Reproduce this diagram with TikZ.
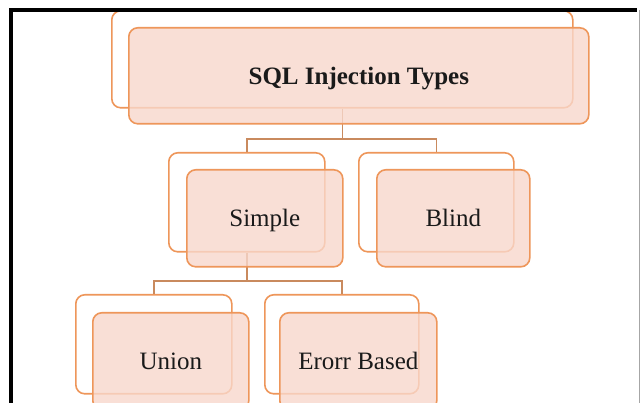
\documentclass[tikz,border=0pt]{standalone}
\usepackage{fontspec}
\setmainfont{Liberation Serif}
\definecolor{boxfill}{HTML}{F8D8CC}
\definecolor{boxline}{HTML}{EE965A}
\definecolor{conn}{HTML}{C98A5E}
\definecolor{txt}{HTML}{1A1A1A}
\tikzset{
  backbox/.style={draw=boxline, fill=white, line width=1.6pt, rounded corners=9pt, anchor=north west, inner sep=0pt},
  frontbox/.style={draw=boxline, fill=boxfill, fill opacity=0.8, text opacity=1, line width=1.6pt, rounded corners=9pt, anchor=north west, inner sep=0pt, text=txt, font=\fontsize{25}{29}\selectfont, text height=20pt, text depth=3pt},
  connector/.style={draw=conn, line width=1.5pt},
}
\begin{document}
\begin{tikzpicture}[x=1pt,y=-1pt]
\useasboundingbox (0,0) rectangle (641,403);
\clip (0,0) rectangle (641,403);
\fill[white] (0,0) rectangle (641,403);
% back boxes
\node[backbox, minimum width=461pt, minimum height=97pt] (topB) at (111,10) {};
\node[backbox, minimum width=156pt, minimum height=99pt] (simpleB) at (168,152) {};
\node[backbox, minimum width=155pt, minimum height=99pt] (blindB) at (358,152) {};
\node[backbox, minimum width=156pt, minimum height=99pt] (unionB) at (75,294) {};
\node[backbox, minimum width=154pt, minimum height=99pt] (errB) at (264,294) {};
% connectors
\draw[connector] (topB.south) -- (topB.south |- 0,139) -| (simpleB.north);
\draw[connector] (topB.south |- 0,139) -| (blindB.north);
\draw[connector] (simpleB.south) -- (simpleB.south |- 0,281) -| (unionB.north);
\draw[connector] (simpleB.south |- 0,281) -| (errB.north);
% front boxes
\node[frontbox, minimum width=460pt, minimum height=96pt] (top) at (128,27) {\textbf{SQL Injection Types}};
\node[frontbox, minimum width=156pt, minimum height=97pt] (simple) at (186,169) {Simple};
\node[frontbox, minimum width=153pt, minimum height=97pt] (blind) at (376,169) {Blind};
\node[frontbox, minimum width=156pt, minimum height=97pt] (union) at (92,312) {Union};
\node[frontbox, minimum width=157pt, minimum height=97pt] (err) at (279,312) {Erorr Based};
% frame
\draw[black, line width=3.5pt] (11,405) -- (11,10) -- (637,10);
\draw[black!35, line width=1pt] (639,10) -- (639,405);
\end{tikzpicture}
\end{document}
